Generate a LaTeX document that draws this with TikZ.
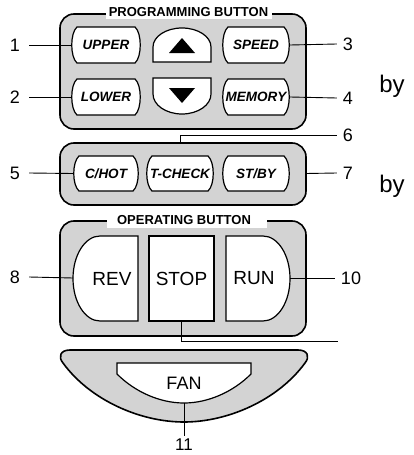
\documentclass[tikz,border=0pt]{standalone}
\usepackage{fontspec}
\setmainfont{Liberation Sans}
\definecolor{panelgray}{RGB}{211,211,211}
\newcommand\progbtn[4]{% x0 x1 y0 y1
  \draw[btn] ({#1+6},#3) -- ({#2-6},#3) .. controls ({#2+1},{#3+6}) and ({#2+1},{#4-6}) .. ({#2-6},#4)
     -- ({#1+6},#4) .. controls ({#1-1},{#4-6}) and ({#1-1},{#3+6}) .. ({#1+6},#3) -- cycle;}
\begin{document}
\begin{tikzpicture}[x=1pt,y=-1pt,
  panel/.style={draw=black,fill=panelgray,line width=1.6pt,rounded corners=14pt},
  btn/.style={draw=black,fill=white,line width=1.2pt},
  lead/.style={draw=black,line width=0.9pt},
  ptxt/.style={font=\fontsize{13.5}{15}\selectfont\bfseries\itshape,inner sep=0pt},
  otxt/.style={font=\fontsize{19}{21}\selectfont,inner sep=0pt},
  ttl/.style={font=\fontsize{13}{15}\selectfont\bfseries,inner sep=0pt},
  lblL/.style={font=\fontsize{18}{20}\selectfont,inner xsep=9pt,inner ysep=0pt},
  lblR/.style={font=\fontsize{18}{20}\selectfont,inner xsep=6pt,inner ysep=0pt},
  bytxt/.style={font=\fontsize{24}{26}\selectfont,inner sep=0pt,anchor=base}]
\useasboundingbox (0,0) rectangle (413,455);
% panels
\draw[panel] (60,14) rectangle (306,129);
\draw[panel] (60,143) rectangle (306,205);
\draw[panel] (60,221) rectangle (306,336);
% fan panel
\draw[draw=black,fill=panelgray,line width=1.6pt]
  (305,363) .. controls (278,400) and (228,422) .. (184,422)
  .. controls (140,422) and (90,400) .. (63,363)
  .. controls (58,357) and (60,350) .. (70,350) -- (298,350)
  .. controls (308,350) and (310,357) .. (305,363) -- cycle;
% programming buttons
\progbtn{71}{141}{27}{63}
\progbtn{71}{141}{79}{115}
\progbtn{222}{290}{27}{63}
\progbtn{222}{290}{79}{115}
\progbtn{73}{139}{156}{191}
\progbtn{146}{214}{156}{191}
\progbtn{222}{290}{156}{191}
% arrow buttons
\draw[btn] (153,62) -- (153,47) arc[start angle=180,end angle=360,x radius=29,y radius=19] -- (211,62) -- cycle;
\draw[btn] (153,78) -- (211,78) -- (211,94) arc[start angle=0,end angle=180,x radius=29,y radius=20] -- cycle;
\fill[black] (182,38) -- (195,53) -- (169,53) -- cycle;
\fill[black] (169,88) -- (195,88) -- (182,103) -- cycle;
% operating buttons
\draw[btn] (138,236) -- (100,236) arc[start angle=270,end angle=90,x radius=27,y radius=42.5] -- (138,321) -- cycle;
\draw[btn] (149,236) rectangle (214,321);
\draw[btn] (226,236) -- (263,236) arc[start angle=270,end angle=450,x radius=27,y radius=42.5] -- (226,321) -- cycle;
% fan button
\draw[btn] (117,363) -- (251,363) -- (251,374) .. controls (233,392) and (208,403) .. (184,403)
  .. controls (160,403) and (135,392) .. (117,374) -- cycle;
% button texts
\node[ptxt] (upper) at (106,45) {UPPER};
\node[ptxt] (lower) at (106,97) {LOWER};
\node[ptxt] (speed) at (256,45) {SPEED};
\node[ptxt] (memory) at (256,97) {MEMORY};
\node[ptxt] (chot) at (106,173.5) {C/HOT};
\node[ptxt] (tcheck) at (180,173.5) {T-CHECK};
\node[ptxt] (stby) at (256,173.5) {ST/BY};
\node[otxt] (rev) at (112,278.5) {REV};
\node[otxt] (stop) at (181.5,278.5) {STOP};
\node[otxt] (run) at (254,278.5) {RUN};
\node[font=\fontsize{18}{20}\selectfont,inner sep=0pt] (fan) at (184,383) {FAN};
% titles
\fill[white] (106,4) rectangle (272,18.5);
\node[ttl] (ptitle) at (188.5,12) {PROGRAMMING BUTTON};
\fill[white] (107,213) rectangle (267,227.5);
\node[ttl] (otitle) at (184,220.5) {OPERATING BUTTON};
% connector end points
\coordinate (upperW) at (71,45);
\coordinate (lowerW) at (71,97);
\coordinate (speedE) at (290,45);
\coordinate (memoryE) at (290,97);
\coordinate (chotW) at (73,173.5);
\coordinate (tcheckN) at (180,143);
\coordinate (panelTwoE) at (306,173.5);
\coordinate (revW) at (73,278);
\coordinate (runE) at (290,278);
\coordinate (stopS) at (181,321);
\coordinate (end9) at (338,341);
\coordinate (fanS) at (184,403);
% labels
\node[lblL] (n1) at (15,45) {1};
\node[lblL] (n2) at (15,97) {2};
\node[lblR] (n3) at (348,44) {3};
\node[lblR] (n4) at (348,98) {4};
\node[lblL] (n5) at (15,173) {5};
\node[lblR] (n6) at (348,135) {6};
\node[lblR] (n7) at (348,173) {7};
\node[lblL] (n8) at (15,277) {8};
\node[lblR] (n10) at (351,278) {10};
\node[font=\fontsize{17}{19}\selectfont,inner sep=0pt] (n11) at (184,445) {11};
\node[bytxt] (by1) at (392,92) {by};
\node[bytxt] (by2) at (392,192) {by};
% leaders
\draw[lead] (n1.east) -- (upperW);
\draw[lead] (n2.east) -- (lowerW);
\draw[lead] (n3.west) -- (speedE);
\draw[lead] (n4.west) -- (memoryE);
\draw[lead] (n5.east) -- (chotW);
\draw[lead] (n6.west) -| (tcheckN);
\draw[lead] (n7.west) -- (panelTwoE);
\draw[lead] (n8.east) -- (revW);
\draw[lead] (n10.west) -- (runE);
\draw[lead] (stopS) |- (end9);
\draw[lead,shorten >=3pt] (fanS) -- (n11.north);
\end{tikzpicture}
\end{document}
